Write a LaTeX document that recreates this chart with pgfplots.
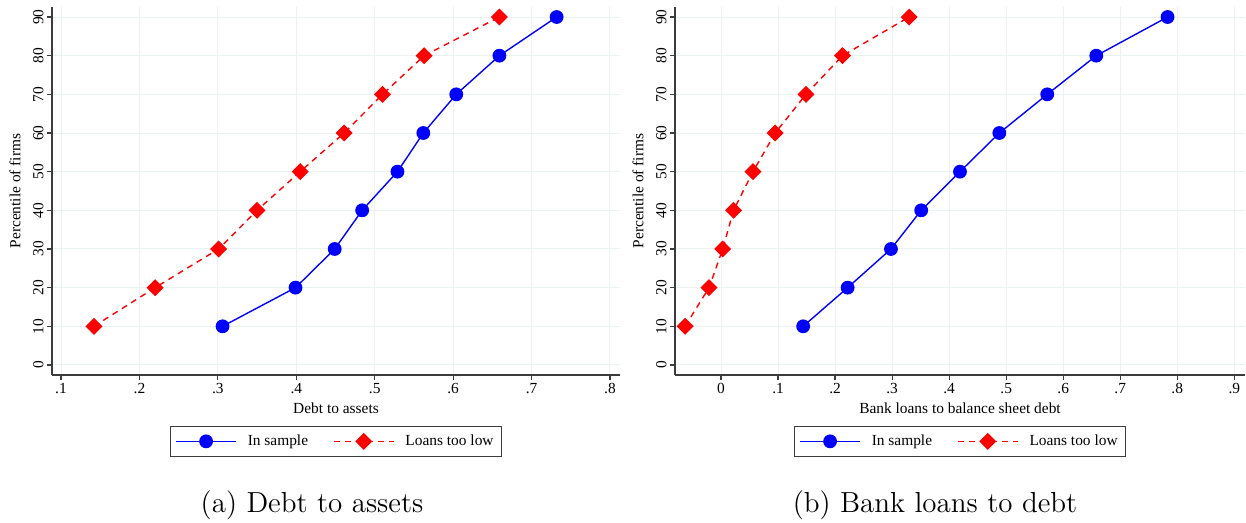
\documentclass[border=0pt]{standalone}
\usepackage{fontspec}
\usepackage{pgfplots}
\pgfplotsset{compat=1.18}
\newfontfamily\timesfont{Liberation Serif}
\definecolor{gridc}{RGB}{234,242,243}
\definecolor{axc}{RGB}{60,60,60}
\definecolor{sblue}{RGB}{0,0,255}
\definecolor{sred}{RGB}{255,0,0}
\pgfplotsset{
  statastyle/.style={
    scale only axis,
    height=184pt,
    ymin=-2.59, ymax=92.59,
    axis x line*=bottom, axis y line*=left,
    axis line style={axc, line width=0.6pt, -},
    tick style={axc, line width=0.6pt},
    tick align=outside,
    major tick length=2.5pt,
    grid=major,
    major grid style={gridc, line width=0.5pt},
    ytick={0,10,20,30,40,50,60,70,80,90},
    yticklabels={0,10,20,30,40,50,60,70,80,90},
    yticklabel style={rotate=90, anchor=south, inner sep=1.5pt},
    xticklabel style={anchor=north, inner sep=1.5pt},
    ylabel={Percentile of firms},
    ylabel style={at={(axis description cs:-0.065,0.5)}, anchor=center, rotate=0},
    xlabel style={anchor=center},
    legend columns=2,
    legend cell align=left,
    legend style={at={(0.5,-0.1386)}, anchor=north, draw=axc, line width=0.5pt,
      inner xsep=2.5pt, inner ysep=2.5pt,
      /tikz/every odd column/.append style={column sep=4pt},
      /tikz/every even column/.append style={column sep=11pt},
      nodes={inner sep=1.5pt}},
    legend image code/.code={\draw[mark repeat=2,mark phase=2,#1] plot coordinates {(0pt,0pt) (15pt,0pt) (30pt,0pt)};},
    every axis plot/.append style={line width=0.7pt},
  },
  insample/.style={sblue, solid, mark=*, mark size=3.1pt, mark options={solid, fill=sblue, draw=sblue}},
  toolow/.style={sred, dash pattern=on 3pt off 2.5pt, mark=square*, mark size=2.65pt, mark options={solid, rotate=45, fill=sred, draw=sred}},
}
\begin{document}
\begin{tikzpicture}[font=\timesfont\fontsize{7.7}{9}\selectfont]
\path[use as bounding box] (0pt,0pt) rectangle (623pt,261.5pt);
\begin{axis}[statastyle,
  at={(26pt,74pt)}, anchor=south west,
  width=284pt,
  xmin=0.0885, xmax=0.8128,
  xtick={0.1,0.2,0.3,0.4,0.5,0.6,0.7,0.8},
  xticklabels={.1,.2,.3,.4,.5,.6,.7,.8},
  xlabel={Debt to assets},
  xlabel style={at={(axis description cs:0.5,-0.0897)}},
]
\addplot[insample] coordinates {(0.306,10) (0.399,20) (0.449,30) (0.484,40) (0.529,50) (0.562,60) (0.604,70) (0.659,80) (0.732,90)};
\addlegendentry{In sample}
\addplot[toolow] coordinates {(0.142,10) (0.220,20) (0.301,30) (0.350,40) (0.405,50) (0.461,60) (0.510,70) (0.563,80) (0.659,90)};
\addlegendentry{Loans too low}
\end{axis}
\begin{axis}[statastyle,
  at={(337.5pt,74pt)}, anchor=south west,
  width=285pt,
  xmin=-0.0807, xmax=0.9188,
  xtick={0,0.1,0.2,0.3,0.4,0.5,0.6,0.7,0.8,0.9},
  xticklabels={0,.1,.2,.3,.4,.5,.6,.7,.8,.9},
  xlabel={Bank loans to balance sheet debt},
  xlabel style={at={(axis description cs:0.5,-0.0897)}},
]
\addplot[insample] coordinates {(0.144,10) (0.222,20) (0.298,30) (0.351,40) (0.419,50) (0.488,60) (0.572,70) (0.658,80) (0.783,90)};
\addlegendentry{In sample}
\addplot[toolow] coordinates {(-0.063,10) (-0.021,20) (0.003,30) (0.022,40) (0.056,50) (0.095,60) (0.149,70) (0.213,80) (0.330,90)};
\addlegendentry{Loans too low}
\end{axis}
\node[anchor=base, font=\normalfont\fontsize{14.5}{17}\selectfont] at (156pt,5pt) {(a) Debt to assets};
\node[anchor=base, font=\normalfont\fontsize{14.5}{17}\selectfont] at (467.5pt,5pt) {(b) Bank loans to debt};
\end{tikzpicture}
\end{document}
